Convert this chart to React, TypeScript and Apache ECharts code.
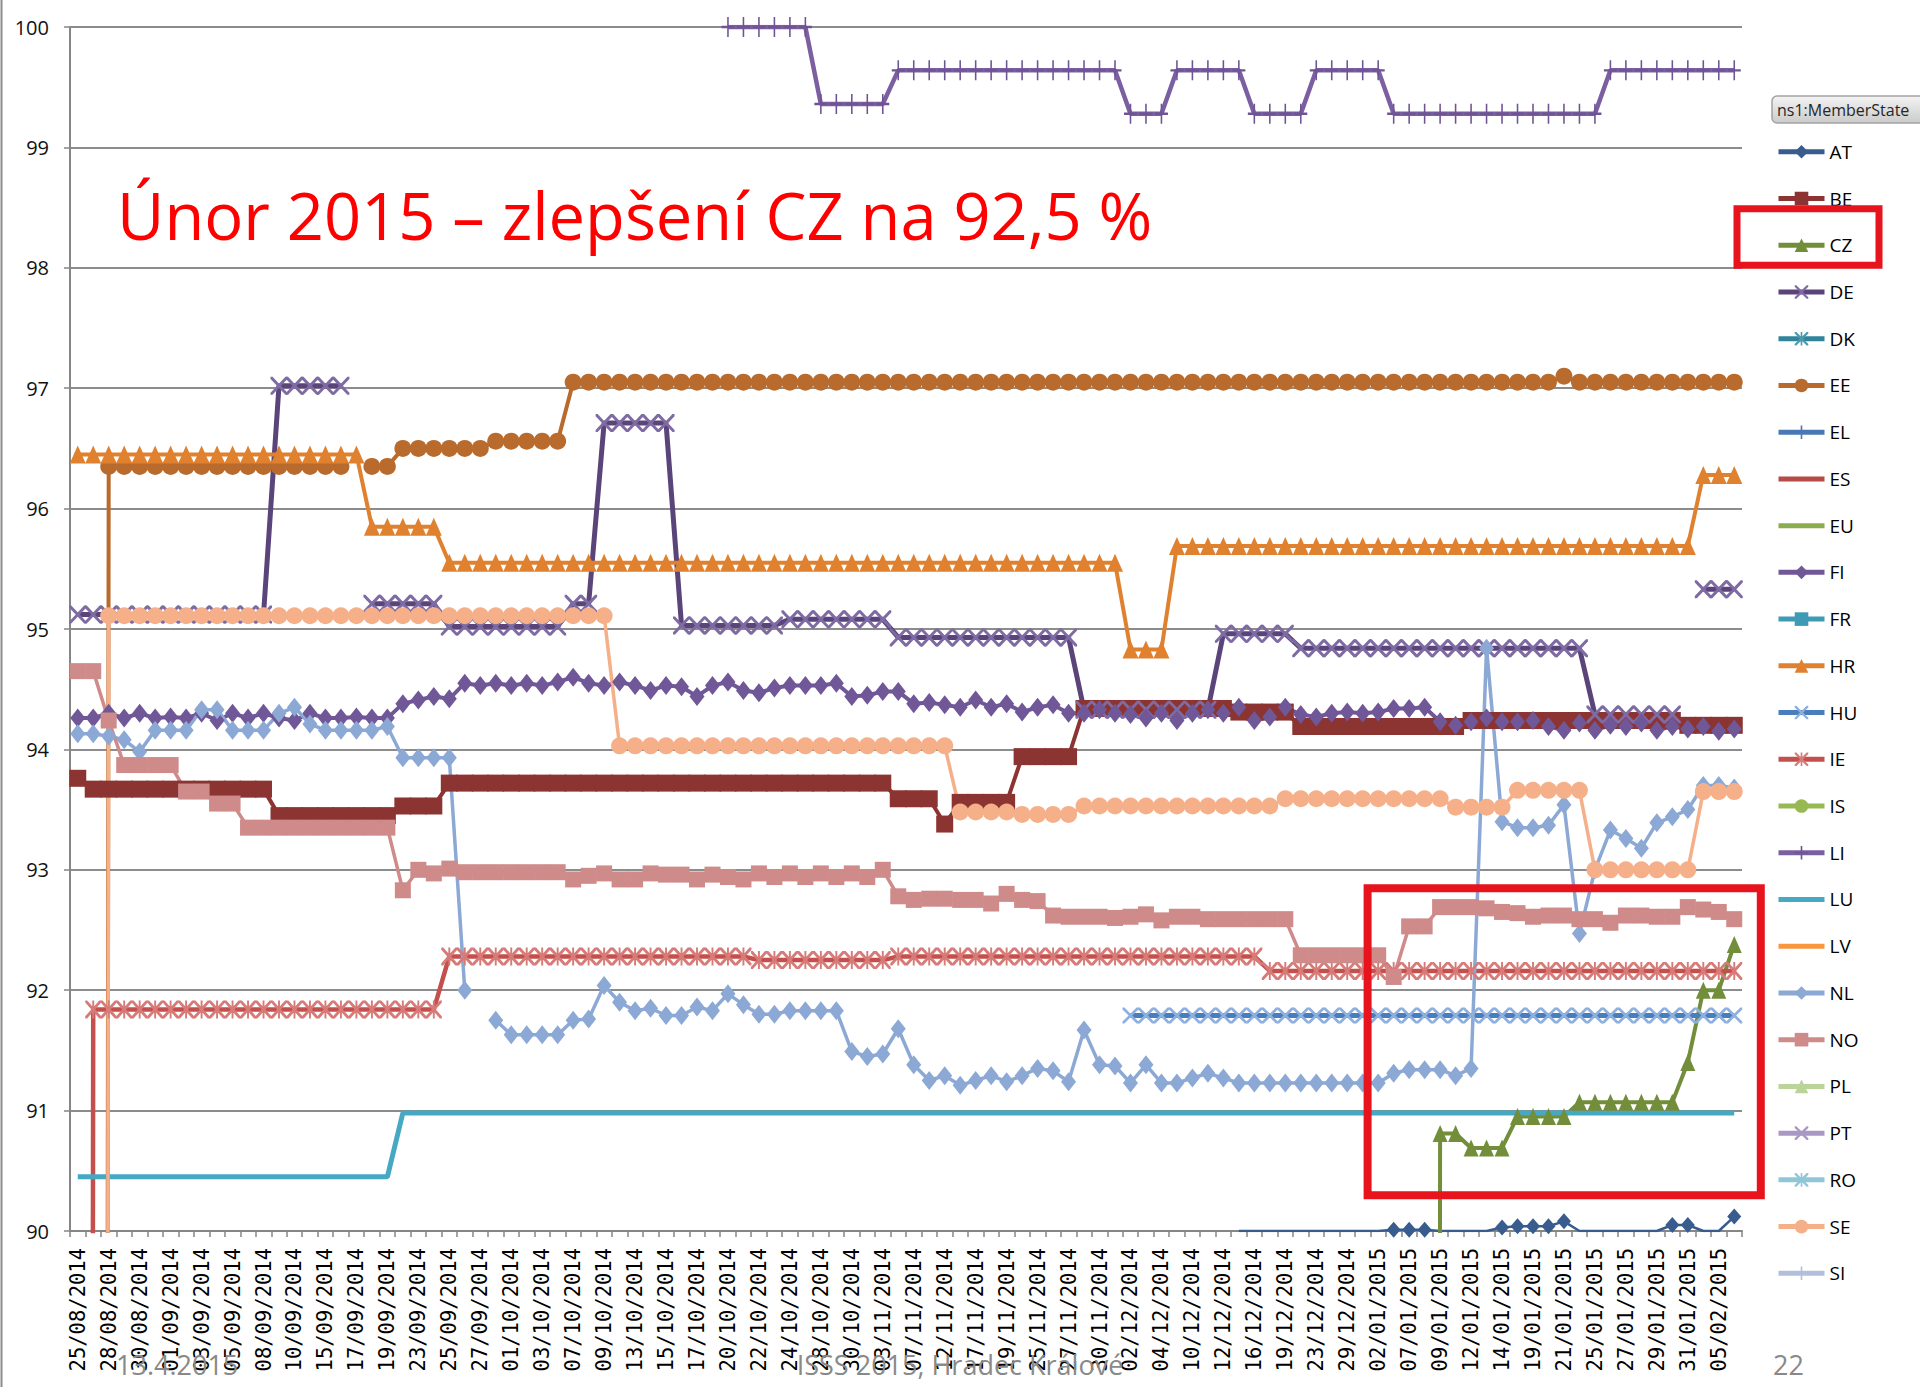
import React, { useEffect, useRef } from "react";
import * as echarts from "echarts";

const _ = null;

const DATES = [
  "25/08/2014", "27/08/2014", "28/08/2014", "29/08/2014", "30/08/2014", "31/08/2014", "01/09/2014", "02/09/2014", "03/09/2014", "04/09/2014",
  "05/09/2014", "07/09/2014", "08/09/2014", "09/09/2014", "10/09/2014", "12/09/2014", "15/09/2014", "16/09/2014", "17/09/2014", "18/09/2014",
  "19/09/2014", "22/09/2014", "23/09/2014", "24/09/2014", "25/09/2014", "26/09/2014", "27/09/2014", "29/09/2014", "01/10/2014", "02/10/2014",
  "03/10/2014", "06/10/2014", "07/10/2014", "08/10/2014", "09/10/2014", "11/10/2014", "13/10/2014", "14/10/2014", "15/10/2014", "16/10/2014",
  "17/10/2014", "18/10/2014", "20/10/2014", "21/10/2014", "22/10/2014", "23/10/2014", "24/10/2014", "27/10/2014", "28/10/2014", "29/10/2014",
  "30/10/2014", "31/10/2014", "03/11/2014", "05/11/2014", "07/11/2014", "10/11/2014", "12/11/2014", "14/11/2014", "17/11/2014", "18/11/2014",
  "19/11/2014", "21/11/2014", "25/11/2014", "26/11/2014", "27/11/2014", "28/11/2014", "30/11/2014", "01/12/2014", "02/12/2014", "03/12/2014",
  "04/12/2014", "08/12/2014", "10/12/2014", "11/12/2014", "12/12/2014", "15/12/2014", "16/12/2014", "18/12/2014", "19/12/2014", "22/12/2014",
  "23/12/2014", "26/12/2014", "29/12/2014", "31/12/2014", "02/01/2015", "05/01/2015", "07/01/2015", "08/01/2015", "09/01/2015", "10/01/2015",
  "12/01/2015", "13/01/2015", "14/01/2015", "16/01/2015", "19/01/2015", "20/01/2015", "21/01/2015", "23/01/2015", "25/01/2015", "26/01/2015",
  "27/01/2015", "28/01/2015", "29/01/2015", "30/01/2015", "31/01/2015", "03/02/2015", "05/02/2015", "06/02/2015",
];

const Y_MIN = 90;
const Y_MAX = 100;
const Y_STEP = 1;

const AT = [
  _, _, _, _, _, _, _, _, _, _,
  _, _, _, _, _, _, _, _, _, _,
  _, _, _, _, _, _, _, _, _, _,
  _, _, _, _, _, _, _, _, _, _,
  _, _, _, _, _, _, _, _, _, _,
  _, _, _, _, _, _, _, _, _, _,
  _, _, _, _, _, _, _, _, _, _,
  _, _, _, _, _, 90, 90, 90, 90, 90,
  90, 90, 90, 90, 90, 90.01, 90.01, 90.01, 90, 90,
  90, 90, 90.03, 90.04, 90.04, 90.04, 90.08, 90, 90, 90,
  90, 90, 90, 90.05, 90.05, 90, 90, 90.12,
];

const BE = [
  93.76, 93.67, 93.67, 93.67, 93.67, 93.67, 93.67, 93.67, 93.67, 93.67,
  93.67, 93.67, 93.67, 93.45, 93.45, 93.45, 93.45, 93.45, 93.45, 93.45,
  93.45, 93.53, 93.53, 93.53, 93.72, 93.72, 93.72, 93.72, 93.72, 93.72,
  93.72, 93.72, 93.72, 93.72, 93.72, 93.72, 93.72, 93.72, 93.72, 93.72,
  93.72, 93.72, 93.72, 93.72, 93.72, 93.72, 93.72, 93.72, 93.72, 93.72,
  93.72, 93.72, 93.72, 93.59, 93.59, 93.59, 93.38, 93.56, 93.56, 93.56,
  93.56, 93.94, 93.94, 93.94, 93.94, 94.34, 94.34, 94.34, 94.34, 94.34,
  94.34, 94.34, 94.34, 94.34, 94.34, 94.31, 94.31, 94.31, 94.31, 94.19,
  94.19, 94.19, 94.19, 94.19, 94.19, 94.19, 94.19, 94.19, 94.19, 94.19,
  94.24, 94.24, 94.24, 94.24, 94.24, 94.24, 94.24, 94.24, 94.24, 94.24,
  94.24, 94.24, 94.24, 94.24, 94.2, 94.2, 94.2, 94.2,
];

const CZ = [
  _, _, _, _, _, _, _, _, _, _,
  _, _, _, _, _, _, _, _, _, _,
  _, _, _, _, _, _, _, _, _, _,
  _, _, _, _, _, _, _, _, _, _,
  _, _, _, _, _, _, _, _, _, _,
  _, _, _, _, _, _, _, _, _, _,
  _, _, _, _, _, _, _, _, _, _,
  _, _, _, _, _, _, _, _, _, _,
  _, _, _, _, _, _, _, 0, 90.81, 90.81,
  90.69, 90.69, 90.69, 90.95, 90.95, 90.95, 90.95, 91.07, 91.07, 91.07,
  91.07, 91.07, 91.07, 91.07, 91.4, 92.0, 92.0, 92.38,
];

const DE = [
  95.12, 95.12, 95.12, 95.12, 95.12, 95.12, 95.12, 95.12, 95.12, 95.12,
  95.12, 95.12, 95.12, 97.02, 97.02, 97.02, 97.02, 97.02, _, 95.21,
  95.21, 95.21, 95.21, 95.21, 95.02, 95.02, 95.02, 95.02, 95.02, 95.02,
  95.02, 95.02, 95.21, 95.21, 96.71, 96.71, 96.71, 96.71, 96.71, 95.03,
  95.03, 95.03, 95.03, 95.03, 95.03, 95.03, 95.08, 95.08, 95.08, 95.08,
  95.08, 95.08, 95.08, 94.93, 94.93, 94.93, 94.93, 94.93, 94.93, 94.93,
  94.93, 94.93, 94.93, 94.93, 94.93, 94.33, 94.33, 94.33, 94.33, 94.33,
  94.33, 94.33, 94.33, 94.33, 94.96, 94.96, 94.96, 94.96, 94.96, 94.84,
  94.84, 94.84, 94.84, 94.84, 94.84, 94.84, 94.84, 94.84, 94.84, 94.84,
  94.84, 94.84, 94.84, 94.84, 94.84, 94.84, 94.84, 94.84, 94.29, 94.29,
  94.29, 94.29, 94.29, 94.29, _, 95.33, 95.33, 95.33,
];

const DK: (number | null)[] = [];

const EE = [
  0, 0, 96.35, 96.35, 96.35, 96.35, 96.35, 96.35, 96.35, 96.35,
  96.35, 96.35, 96.35, 96.35, 96.35, 96.35, 96.35, 96.35, _, 96.35,
  96.35, 96.5, 96.5, 96.5, 96.5, 96.5, 96.5, 96.56, 96.56, 96.56,
  96.56, 96.56, 97.05, 97.05, 97.05, 97.05, 97.05, 97.05, 97.05, 97.05,
  97.05, 97.05, 97.05, 97.05, 97.05, 97.05, 97.05, 97.05, 97.05, 97.05,
  97.05, 97.05, 97.05, 97.05, 97.05, 97.05, 97.05, 97.05, 97.05, 97.05,
  97.05, 97.05, 97.05, 97.05, 97.05, 97.05, 97.05, 97.05, 97.05, 97.05,
  97.05, 97.05, 97.05, 97.05, 97.05, 97.05, 97.05, 97.05, 97.05, 97.05,
  97.05, 97.05, 97.05, 97.05, 97.05, 97.05, 97.05, 97.05, 97.05, 97.05,
  97.05, 97.05, 97.05, 97.05, 97.05, 97.05, 97.1, 97.05, 97.05, 97.05,
  97.05, 97.05, 97.05, 97.05, 97.05, 97.05, 97.05, 97.05,
];

const EL: (number | null)[] = [];
const ES: (number | null)[] = [];
const EU: (number | null)[] = [];

const FI = [
  94.26, 94.26, 94.3, 94.26, 94.3, 94.26, 94.27, 94.26, 94.3, 94.24,
  94.3, 94.26, 94.3, 94.26, 94.24, 94.3, 94.26, 94.26, 94.27, 94.26,
  94.26, 94.38, 94.41, 94.44, 94.42, 94.55, 94.53, 94.55, 94.53, 94.55,
  94.53, 94.56, 94.6, 94.55, 94.53, 94.56, 94.53, 94.49, 94.53, 94.52,
  94.44, 94.53, 94.56, 94.49, 94.47, 94.51, 94.53, 94.53, 94.53, 94.55,
  94.44, 94.45, 94.48, 94.48, 94.38, 94.39, 94.37, 94.35, 94.41, 94.35,
  94.38, 94.31, 94.35, 94.37, 94.3, 94.3, 94.33, 94.3, 94.29, 94.26,
  94.3, 94.24, 94.3, 94.33, 94.3, 94.35, 94.24, 94.27, 94.35, 94.29,
  94.27, 94.3, 94.31, 94.3, 94.31, 94.34, 94.34, 94.35, 94.23, 94.2,
  94.23, 94.26, 94.23, 94.23, 94.24, 94.19, 94.16, 94.22, 94.16, 94.2,
  94.19, 94.22, 94.16, 94.19, 94.17, 94.19, 94.15, 94.17,
];

const FR: (number | null)[] = [];

const HR = [
  96.45, 96.45, 96.45, 96.45, 96.45, 96.45, 96.45, 96.45, 96.45, 96.45,
  96.45, 96.45, 96.45, 96.45, 96.45, 96.45, 96.45, 96.45, 96.45, 95.85,
  95.85, 95.85, 95.85, 95.85, 95.55, 95.55, 95.55, 95.55, 95.55, 95.55,
  95.55, 95.55, 95.55, 95.55, 95.55, 95.55, 95.55, 95.55, 95.55, 95.55,
  95.55, 95.55, 95.55, 95.55, 95.55, 95.55, 95.55, 95.55, 95.55, 95.55,
  95.55, 95.55, 95.55, 95.55, 95.55, 95.55, 95.55, 95.55, 95.55, 95.55,
  95.55, 95.55, 95.55, 95.55, 95.55, 95.55, 95.55, 95.55, 94.83, 94.83,
  94.83, 95.69, 95.69, 95.69, 95.69, 95.69, 95.69, 95.69, 95.69, 95.69,
  95.69, 95.69, 95.69, 95.69, 95.69, 95.69, 95.69, 95.69, 95.69, 95.69,
  95.69, 95.69, 95.69, 95.69, 95.69, 95.69, 95.69, 95.69, 95.69, 95.69,
  95.69, 95.69, 95.69, 95.69, 95.69, 96.28, 96.28, 96.28,
];

const HU = [
  _, _, _, _, _, _, _, _, _, _,
  _, _, _, _, _, _, _, _, _, _,
  _, _, _, _, _, _, _, _, _, _,
  _, _, _, _, _, _, _, _, _, _,
  _, _, _, _, _, _, _, _, _, _,
  _, _, _, _, _, _, _, _, _, _,
  _, _, _, _, _, _, _, _, 91.79, 91.79,
  91.79, 91.79, 91.79, 91.79, 91.79, 91.79, 91.79, 91.79, 91.79, 91.79,
  91.79, 91.79, 91.79, 91.79, 91.79, 91.79, 91.79, 91.79, 91.79, 91.79,
  91.79, 91.79, 91.79, 91.79, 91.79, 91.79, 91.79, 91.79, 91.79, 91.79,
  91.79, 91.79, 91.79, 91.79, 91.79, 91.79, 91.79, 91.79,
];

const IE = [
  0, 91.84, 91.84, 91.84, 91.84, 91.84, 91.84, 91.84, 91.84, 91.84,
  91.84, 91.84, 91.84, 91.84, 91.84, 91.84, 91.84, 91.84, 91.84, 91.84,
  91.84, 91.84, 91.84, 91.84, 92.28, 92.28, 92.28, 92.28, 92.28, 92.28,
  92.28, 92.28, 92.28, 92.28, 92.28, 92.28, 92.28, 92.28, 92.28, 92.28,
  92.28, 92.28, 92.28, 92.28, 92.25, 92.25, 92.25, 92.25, 92.25, 92.25,
  92.25, 92.25, 92.25, 92.28, 92.28, 92.28, 92.28, 92.28, 92.28, 92.28,
  92.28, 92.28, 92.28, 92.28, 92.28, 92.28, 92.28, 92.28, 92.28, 92.28,
  92.28, 92.28, 92.28, 92.28, 92.28, 92.28, 92.28, 92.16, 92.16, 92.16,
  92.16, 92.16, 92.16, 92.16, 92.16, 92.16, 92.16, 92.16, 92.16, 92.16,
  92.16, 92.16, 92.16, 92.16, 92.16, 92.16, 92.16, 92.16, 92.16, 92.16,
  92.16, 92.16, 92.16, 92.16, 92.16, 92.16, 92.16, 92.16,
];

const IS: (number | null)[] = [];

const LI = [
  _, _, _, _, _, _, _, _, _, _,
  _, _, _, _, _, _, _, _, _, _,
  _, _, _, _, _, _, _, _, _, _,
  _, _, _, _, _, _, _, _, _, _,
  _, _, 100, 100, 100, 100, 100, 100, 99.36, 99.36,
  99.36, 99.36, 99.36, 99.64, 99.64, 99.64, 99.64, 99.64, 99.64, 99.64,
  99.64, 99.64, 99.64, 99.64, 99.64, 99.64, 99.64, 99.64, 99.28, 99.28,
  99.28, 99.64, 99.64, 99.64, 99.64, 99.64, 99.28, 99.28, 99.28, 99.28,
  99.64, 99.64, 99.64, 99.64, 99.64, 99.28, 99.28, 99.28, 99.28, 99.28,
  99.28, 99.28, 99.28, 99.28, 99.28, 99.28, 99.28, 99.28, 99.28, 99.64,
  99.64, 99.64, 99.64, 99.64, 99.64, 99.64, 99.64, 99.64,
];

const LU = [
  90.45, 90.45, 90.45, 90.45, 90.45, 90.45, 90.45, 90.45, 90.45, 90.45,
  90.45, 90.45, 90.45, 90.45, 90.45, 90.45, 90.45, 90.45, 90.45, 90.45,
  90.45, 90.98, 90.98, 90.98, 90.98, 90.98, 90.98, 90.98, 90.98, 90.98,
  90.98, 90.98, 90.98, 90.98, 90.98, 90.98, 90.98, 90.98, 90.98, 90.98,
  90.98, 90.98, 90.98, 90.98, 90.98, 90.98, 90.98, 90.98, 90.98, 90.98,
  90.98, 90.98, 90.98, 90.98, 90.98, 90.98, 90.98, 90.98, 90.98, 90.98,
  90.98, 90.98, 90.98, 90.98, 90.98, 90.98, 90.98, 90.98, 90.98, 90.98,
  90.98, 90.98, 90.98, 90.98, 90.98, 90.98, 90.98, 90.98, 90.98, 90.98,
  90.98, 90.98, 90.98, 90.98, 90.98, 90.98, 90.98, 90.98, 90.98, 90.98,
  90.98, 90.98, 90.98, 90.98, 90.98, 90.98, 90.98, 90.98, 90.98, 90.98,
  90.98, 90.98, 90.98, 90.98, 90.98, 90.98, 90.98, 90.98,
];

const LV: (number | null)[] = [];

const NL = [
  94.13, 94.13, 94.11, 94.08, 93.98, 94.16, 94.16, 94.16, 94.33, 94.33,
  94.16, 94.16, 94.16, 94.3, 94.35, 94.21, 94.16, 94.16, 94.16, 94.16,
  94.19, 93.93, 93.93, 93.93, 93.93, 92.0, _, 91.75, 91.63, 91.63,
  91.63, 91.63, 91.75, 91.76, 92.04, 91.9, 91.83, 91.85, 91.79, 91.79,
  91.86, 91.83, 91.97, 91.88, 91.8, 91.8, 91.83, 91.83, 91.83, 91.83,
  91.49, 91.45, 91.47, 91.68, 91.38, 91.25, 91.29, 91.21, 91.25, 91.29,
  91.24, 91.29, 91.35, 91.33, 91.24, 91.67, 91.38, 91.37, 91.23, 91.38,
  91.23, 91.23, 91.27, 91.31, 91.27, 91.23, 91.23, 91.23, 91.23, 91.23,
  91.23, 91.23, 91.23, 91.23, 91.23, 91.31, 91.34, 91.34, 91.34, 91.29,
  91.35, 94.84, 93.4, 93.35, 93.35, 93.37, 93.54, 92.47, 93.0, 93.33,
  93.26, 93.18, 93.39, 93.44, 93.5, 93.7, 93.7, 93.68,
];

const NO = [
  94.65, 94.65, 94.24, 93.87, 93.87, 93.87, 93.87, 93.65, 93.65, 93.55,
  93.55, 93.35, 93.35, 93.35, 93.35, 93.35, 93.35, 93.35, 93.35, 93.35,
  93.35, 92.83, 93.0, 92.97, 93.01, 92.98, 92.98, 92.98, 92.98, 92.98,
  92.98, 92.98, 92.92, 92.95, 92.97, 92.92, 92.92, 92.97, 92.96, 92.96,
  92.92, 92.96, 92.94, 92.92, 92.97, 92.94, 92.97, 92.94, 92.97, 92.94,
  92.97, 92.94, 93.0, 92.78, 92.75, 92.76, 92.76, 92.75, 92.75, 92.72,
  92.8, 92.75, 92.74, 92.62, 92.61, 92.61, 92.61, 92.6, 92.61, 92.63,
  92.58, 92.61, 92.61, 92.59, 92.59, 92.59, 92.59, 92.59, 92.59, 92.29,
  92.29, 92.29, 92.29, 92.29, 92.29, 92.11, 92.53, 92.53, 92.69, 92.69,
  92.69, 92.68, 92.65, 92.64, 92.61, 92.62, 92.62, 92.59, 92.59, 92.56,
  92.62, 92.62, 92.61, 92.61, 92.69, 92.67, 92.65, 92.59,
];

const PL: (number | null)[] = [];
const PT: (number | null)[] = [];
const RO: (number | null)[] = [];

const SE = [
  0, 0, 95.11, 95.11, 95.11, 95.11, 95.11, 95.11, 95.11, 95.11,
  95.11, 95.11, 95.11, 95.11, 95.11, 95.11, 95.11, 95.11, 95.11, 95.11,
  95.11, 95.11, 95.11, 95.11, 95.11, 95.11, 95.11, 95.11, 95.11, 95.11,
  95.11, 95.11, 95.11, 95.11, 95.11, 94.03, 94.03, 94.03, 94.03, 94.03,
  94.03, 94.03, 94.03, 94.03, 94.03, 94.03, 94.03, 94.03, 94.03, 94.03,
  94.03, 94.03, 94.03, 94.03, 94.03, 94.03, 94.03, 93.48, 93.48, 93.48,
  93.48, 93.46, 93.46, 93.46, 93.46, 93.53, 93.53, 93.53, 93.53, 93.53,
  93.53, 93.53, 93.53, 93.53, 93.53, 93.53, 93.53, 93.53, 93.59, 93.59,
  93.59, 93.59, 93.59, 93.59, 93.59, 93.59, 93.59, 93.59, 93.59, 93.52,
  93.52, 93.52, 93.52, 93.66, 93.66, 93.66, 93.66, 93.66, 93.0, 93.0,
  93.0, 93.0, 93.0, 93.0, 93.0, 93.65, 93.65, 93.65,
];

const SI: (number | null)[] = [];

const TITLE = "Únor 2015 – zlepšení CZ na 92,5 %";
const FOOT_DATE = "13.4.2015";
const FOOT_CONF = "ISSS 2015, Hradec Králové";
const FOOT_PAGE = "22";
const LEGEND_HEADER = "ns1:MemberState";

const X_SYM = "path://M0,0L1.2,0L10,8.8L10,10L8.8,10L0,1.2Z M10,0L10,1.2L1.2,10L0,10L0,8.8L8.8,0Z";
const STAR_SYM = "path://M0,0L1.2,0L10,8.8L10,10L8.8,10L0,1.2Z M10,0L10,1.2L1.2,10L0,10L0,8.8L8.8,0Z M4.4,0L5.6,0L5.6,10L4.4,10Z";
const PLUS_SYM = "path://M4.4,0L5.6,0L5.6,4.4L10,4.4L10,5.6L5.6,5.6L5.6,10L4.4,10L4.4,5.6L0,5.6L0,4.4L4.4,4.4Z";
const LINE_ICON = "path://M0,0H46V5H0Z";

const SERIES = [
  { name: "AT", data: AT, line: "#385c8d", fill: "#385c8d", symbol: "diamond", size: [14, 16], width: 2.5 },
  { name: "BE", data: BE, line: "#8b3432", fill: "#8b3432", symbol: "rect", size: 17, width: 4 },
  { name: "CZ", data: CZ, line: "#728e3a", fill: "#728e3a", symbol: "triangle", size: [15, 17], width: 4 },
  { name: "DE", data: DE, line: "#5a4479", fill: "#7f6ba3", symbol: X_SYM, size: [17, 18], width: 5 },
  { name: "DK", data: DK, line: "#31849b", fill: "#4b9aae", symbol: STAR_SYM, size: [16, 18], width: 4 },
  { name: "EE", data: EE, line: "#b96b2d", fill: "#b96b2d", symbol: "circle", size: 17, width: 4 },
  { name: "EL", data: EL, line: "#4a78b4", fill: "#4a78b4", symbol: PLUS_SYM, size: [14, 18], width: 4 },
  { name: "ES", data: ES, line: "#b64a47", fill: "#b64a47", symbol: "none", size: 10, width: 4 },
  { name: "EU", data: EU, line: "#8aad4f", fill: "#8aad4f", symbol: "none", size: 10, width: 4 },
  { name: "FI", data: FI, line: "#705797", fill: "#705797", symbol: "diamond", size: [15, 19], width: 4 },
  { name: "FR", data: FR, line: "#3f9ab5", fill: "#3f9ab5", symbol: "rect", size: 15, width: 4 },
  { name: "HR", data: HR, line: "#e0812f", fill: "#e0812f", symbol: "triangle", size: [16, 18], width: 4 },
  { name: "HU", data: HU, line: "#4a7dbd", fill: "#8eb0de", symbol: X_SYM, size: [16, 16], width: 5 },
  { name: "IE", data: IE, line: "#c3504c", fill: "#d77b79", symbol: STAR_SYM, size: [16, 18], width: 4.5 },
  { name: "IS", data: IS, line: "#97b954", fill: "#97b954", symbol: "circle", size: 15, width: 4 },
  { name: "LI", data: LI, line: "#7b5fa1", fill: "#6f5495", symbol: PLUS_SYM, size: [13, 20], width: 4.5 },
  { name: "LU", data: LU, line: "#45a9c4", fill: "#45a9c4", symbol: "none", size: 10, width: 5 },
  { name: "LV", data: LV, line: "#f99740", fill: "#f99740", symbol: "none", size: 10, width: 4 },
  { name: "NL", data: NL, line: "#8ca8d4", fill: "#8ca8d4", symbol: "diamond", size: [15, 19], width: 3.5 },
  { name: "NO", data: NO, line: "#cf8a8a", fill: "#cf8a8a", symbol: "rect", size: 16, width: 3.5 },
  { name: "PL", data: PL, line: "#bad49a", fill: "#bad49a", symbol: "triangle", size: [15, 17], width: 4 },
  { name: "PT", data: PT, line: "#a998c4", fill: "#a998c4", symbol: X_SYM, size: [16, 16], width: 4 },
  { name: "RO", data: RO, line: "#8fc7d8", fill: "#8fc7d8", symbol: STAR_SYM, size: [16, 18], width: 4 },
  { name: "SE", data: SE, line: "#f6b089", fill: "#f6b089", symbol: "circle", size: 17, width: 3.5 },
  { name: "SI", data: SI, line: "#b3bfda", fill: "#b3bfda", symbol: PLUS_SYM, size: [14, 18], width: 4 },
];

export default function App() {
  const ref = useRef<HTMLDivElement>(null);

  useEffect(() => {
    document.body.style.margin = "0";
    const chart = echarts.init(ref.current as HTMLDivElement, null, { renderer: "svg" });

    const series = SERIES.map((s) => ({
      name: s.name,
      type: "line",
      data:
        s.name === "AT"
          ? s.data.map((v) => (v === 90 ? { value: v, symbol: "none" } : v))
          : s.data,
      symbol: s.symbol,
      symbolSize: s.size,
      showAllSymbol: true,
      connectNulls: false,
      clip: true,
      silent: true,
      lineStyle: { color: s.line, width: s.width },
      itemStyle: { color: s.fill },
      emphasis: { disabled: true },
    }));

    const footStyle = { fontFamily: "Open Sans", fontSize: 27, fill: "#898989", verticalAlign: "middle" };

    const option = {
      animation: false,
      backgroundColor: "#ffffff",
      grid: { left: 70, right: 178, top: 27, bottom: 156, containLabel: false, outerBoundsMode: "none" },
      xAxis: {
        type: "category",
        data: DATES,
        boundaryGap: true,
        axisLine: { show: true, lineStyle: { color: "#868686", width: 2 } },
        axisTick: { show: true, interval: 0, length: 6, lineStyle: { color: "#868686", width: 1.5 } },
        axisLabel: {
          interval: 1,
          rotate: 90,
          margin: 17,
          fontFamily: "DejaVu Sans Mono",
          fontSize: 20.5,
          color: "#000000",
        },
        splitLine: { show: false },
      },
      yAxis: {
        type: "value",
        min: Y_MIN,
        max: Y_MAX,
        interval: Y_STEP,
        axisLine: { show: true, lineStyle: { color: "#868686", width: 2 } },
        axisTick: { show: true, length: 6, lineStyle: { color: "#868686", width: 1.5 } },
        axisLabel: { margin: 21, fontFamily: "Open Sans", fontSize: 20, color: "#111111" },
        splitLine: { show: true, lineStyle: { color: "#8c8c8c", width: 2 } },
      },
      legend: {
        orient: "vertical",
        left: 1776,
        top: 141.8,
        padding: 0,
        itemWidth: 46,
        itemHeight: 17,
        itemGap: 26.73,
        selectedMode: false,
        textStyle: { fontFamily: "Open Sans", fontSize: 19, color: "#000000", lineHeight: 20 },
        lineStyle: { width: 5 },
        data: SERIES.map((s) => (s.symbol === "none" ? { name: s.name, icon: LINE_ICON } : s.name)),
      },
      series,
      graphic: [
        {
          type: "line",
          z: 100,
          silent: true,
          shape: { x1: 1.5, y1: 0, x2: 1.5, y2: 1387 },
          style: { stroke: "#8c8c8c", lineWidth: 2 },
        },
        {
          type: "text",
          z: 100,
          silent: true,
          x: 117,
          y: 215,
          style: {
            text: TITLE,
            fontFamily: "Open Sans",
            fontSize: 65,
            fill: "#ff0000",
            align: "left",
            verticalAlign: "middle",
          },
        },
        {
          type: "rect",
          z: 100,
          silent: true,
          shape: { x: 1737, y: 208.7, width: 142, height: 56.5 },
          style: { fill: "none", stroke: "#e8141d", lineWidth: 7 },
        },
        {
          type: "rect",
          z: 100,
          silent: true,
          shape: { x: 1367.6, y: 888.3, width: 393.2, height: 307 },
          style: { fill: "none", stroke: "#e8141d", lineWidth: 8 },
        },
        {
          type: "rect",
          z: 100,
          silent: true,
          shape: { x: 1772, y: 96, width: 170, height: 27, r: 5 },
          style: {
            fill: {
              type: "linear",
              x: 0,
              y: 0,
              x2: 0,
              y2: 1,
              colorStops: [
                { offset: 0, color: "#f3f3f3" },
                { offset: 1, color: "#cbcbcb" },
              ],
            },
            stroke: "#a3a3a3",
            lineWidth: 1.5,
          },
        },
        {
          type: "text",
          z: 101,
          silent: true,
          x: 1777,
          y: 110,
          style: {
            text: LEGEND_HEADER,
            fontFamily: "Open Sans",
            fontSize: 16,
            fill: "#262626",
            align: "left",
            verticalAlign: "middle",
          },
        },
        {
          type: "text",
          z: 100,
          silent: true,
          x: 116,
          y: 1364,
          style: { ...footStyle, text: FOOT_DATE, align: "left" },
        },
        {
          type: "text",
          z: 100,
          silent: true,
          x: 960,
          y: 1364,
          style: { ...footStyle, text: FOOT_CONF, align: "center" },
        },
        {
          type: "text",
          z: 100,
          silent: true,
          x: 1773,
          y: 1364,
          style: { ...footStyle, text: FOOT_PAGE, align: "left" },
        },
      ],
    };

    chart.setOption(option as any);
    return () => {
      chart.dispose();
    };
  }, []);

  return (
    <div
      ref={ref}
      style={{ position: "absolute", left: 0, top: 0, width: 1920, height: 1387, background: "#ffffff" }}
    />
  );
}
